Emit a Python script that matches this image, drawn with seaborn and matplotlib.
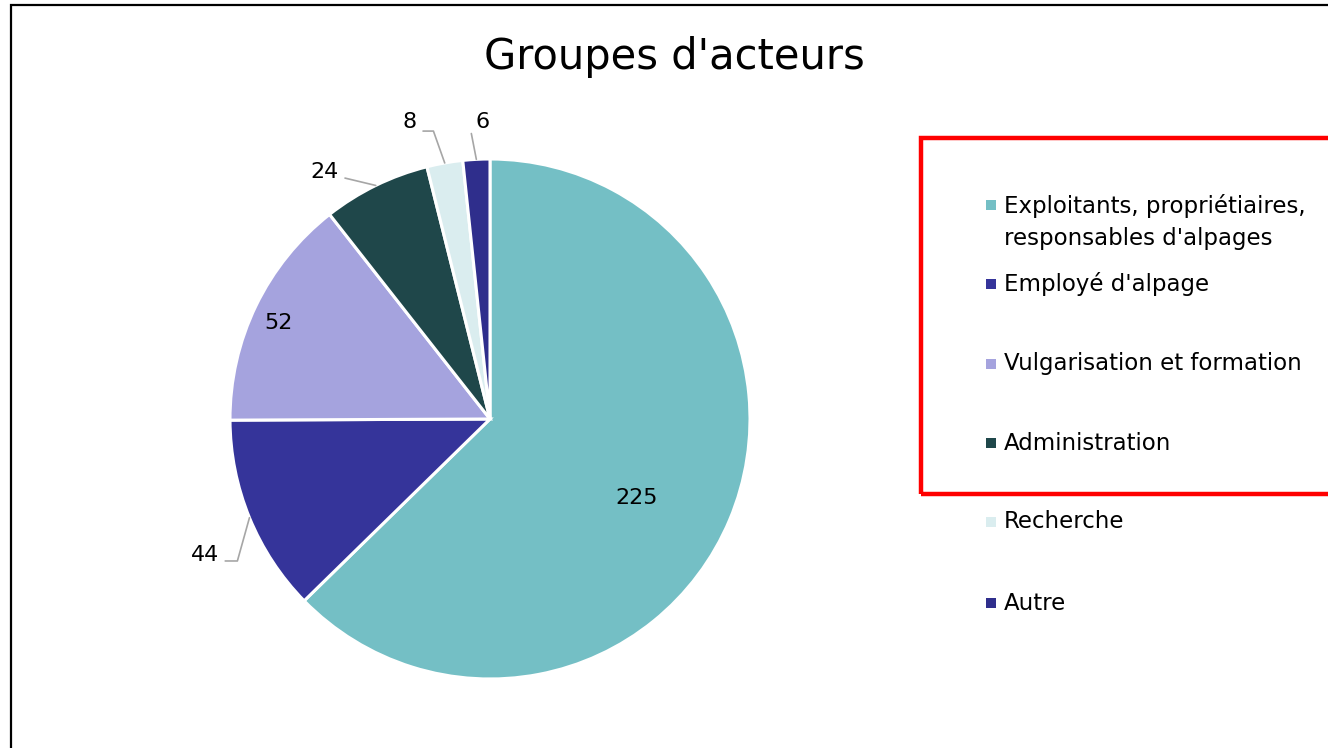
import matplotlib.pyplot as plt
import numpy as np
import seaborn as sns
from matplotlib.patches import Rectangle

# data
categories = [
    "Exploitants, propriétiaires,\nresponsables d'alpages",
    "Employé d'alpage",
    "Vulgarisation et formation",
    "Administration",
    "Recherche",
    "Autre",
]
counts = [225, 44, 52, 24, 8, 6]
colors = sns.color_palette(["#74BFC5", "#35349A", "#A5A3DE", "#1F474A", "#DAEDEF", "#2F2E8C"])

# label placement (pie data units, radius = 1)
label_pos = [(0.565, -0.304), (-1.096, -0.523), (-0.812, 0.369), (-0.635, 0.950), (-0.308, 1.142), (-0.027, 1.142)]
outside = [False, True, False, True, True, True]
leader_relpos = [None, (1.0, 0.2), None, (1.05, 0.25), (1.1, 0.05), (-0.2, 0.05)]
leader_angle = [None, 74.4, None, None, 109.5, 101.0]

sns.set_theme(style="white")
plt.rcParams["font.family"] = ["DejaVu Sans"]

W, H = 1328, 748
fig = plt.figure(figsize=(W / 100, H / 100), dpi=100)

# pie axes: centre (490, 419) px, radius 260 px
cx, cy, r = 490, 419, 260
ax = fig.add_axes([(cx - r) / W, 1 - (cy + r) / H, 2 * r / W, 2 * r / H])
wedges, _ = ax.pie(
    counts,
    colors=colors,
    startangle=90,
    counterclock=False,
    radius=1,
    wedgeprops=dict(edgecolor="white", linewidth=2.2),
)
ax.set_xlim(-1, 1)
ax.set_ylim(-1, 1)
ax.set_aspect("equal")
ax.axis("off")

for w, value, pos, out, rel, ang in zip(wedges, counts, label_pos, outside, leader_relpos, leader_angle):
    if not out:
        ax.text(pos[0], pos[1], str(value), ha="center", va="center", fontsize=16, color="black")
        continue
    mid = np.deg2rad((w.theta1 + w.theta2) / 2)
    edge = (np.cos(mid), np.sin(mid))
    if ang is None:
        conn = "arc3,rad=0"
    else:
        conn = f"angle,angleA=0,angleB={ang},rad=0"
    ax.annotate(
        str(value),
        xy=edge,
        xytext=pos,
        ha="center",
        va="center",
        fontsize=16,
        color="black",
        annotation_clip=False,
        arrowprops=dict(
            arrowstyle="-",
            color="#A6A6A6",
            lw=1.2,
            relpos=rel,
            shrinkA=2,
            shrinkB=0,
            connectionstyle=conn,
        ),
    )

fig.text(674 / W, 1 - 57 / H, "Groupes d'acteurs", ha="center", va="center", fontsize=30, color="black")

# legend drawn by hand to match the original spacing
legend_y = [205, 284, 364, 443, 522, 603]
for label, col, y in zip(categories, colors, legend_y):
    fig.patches.append(
        Rectangle(((991 - 5) / W, 1 - (y + 5) / H), 10 / W, 10 / H, transform=fig.transFigure,
                  facecolor=col, edgecolor="none")
    )
    if "\n" in label:
        fig.text(1004 / W, 1 - (y - 11) / H, label, ha="left", va="top", fontsize=16.5,
                 linespacing=1.5, color="black")
    else:
        fig.text(1004 / W, 1 - y / H, label, ha="left", va="center", fontsize=16.5, color="black")

# red highlight box and outer frame
fig.patches.append(
    Rectangle((921 / W, 1 - 494 / H), 0.4, (494 - 138) / H, transform=fig.transFigure,
              facecolor="none", edgecolor="#FF0000", linewidth=3.2, clip_on=False)
)
fig.patches.append(
    Rectangle((11 / W, -0.1), 1.2, 1.1 - 5 / H, transform=fig.transFigure,
              facecolor="none", edgecolor="black", linewidth=1.6, clip_on=False)
)

fig.savefig("out.png", dpi=100, facecolor="white")
